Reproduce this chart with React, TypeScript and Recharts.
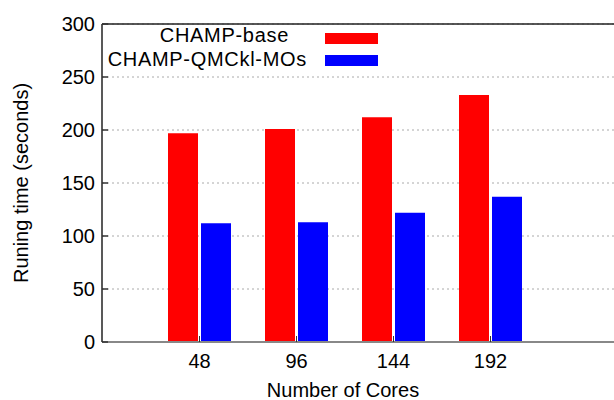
import { BarChart, Bar, XAxis, YAxis, CartesianGrid, Legend, Label, ReferenceLine } from "recharts";

const cores = ["48", "96", "144", "192"];
const champBase = [197, 201, 212, 233];
const champQmckl = [112, 113, 122, 137];
const yTicks = [0, 50, 100, 150, 200, 250, 300];
const seriesNames = ["CHAMP-base", "CHAMP-QMCkl-MOs"];

const data = cores.map((c, i) => ({ cores: c, base: champBase[i], qmckl: champQmckl[i] }));

const FONT = "'Liberation Sans', Arial, sans-serif";

function XTick(props: any) {
  const { x, y, payload } = props;
  return (
    <g>
      <line x1={x} x2={x} y1={342} y2={336} stroke="#333" strokeWidth={1} />
      <text x={x} y={y} dy="0.71em" textAnchor="middle" fontSize={20} fill="#000" fontFamily={FONT}>
        {payload.value}
      </text>
    </g>
  );
}

function YTick(props: any) {
  const { x, y, payload } = props;
  return (
    <g>
      <line x1={102} x2={108} y1={y} y2={y} stroke="#333" strokeWidth={1.5} />
      <text x={x} y={y} dy="0.355em" textAnchor="end" fontSize={20} fill="#000" fontFamily={FONT}>
        {payload.value}
      </text>
    </g>
  );
}

function LegendBox(props: any) {
  const payload = props.payload || [];
  const rows = seriesNames.map((n) => payload.find((p: any) => p.value === n)).filter(Boolean);
  const ends = [289, 307];
  return (
    <div style={{ position: "relative", width: 614, height: 80, fontFamily: FONT, fontSize: 20, letterSpacing: "0.7px" }}>
      {rows.map((r: any, i: number) => (
        <div key={r.value}>
          <div
            style={{
              position: "absolute",
              right: 614 - ends[i],
              top: 24 + i * 24,
              height: 23,
              lineHeight: "23px",
              whiteSpace: "nowrap",
              color: "#000",
            }}
          >
            {r.value}
          </div>
          <div
            style={{
              position: "absolute",
              left: 325,
              top: 33 + i * 22,
              width: 53,
              height: 11,
              background: r.color,
            }}
          />
        </div>
      ))}
    </div>
  );
}

export default function App() {
  return (
    <div style={{ position: "absolute", left: 0, top: 0, width: 614, height: 400, background: "#fff" }}>
      <BarChart
        width={614}
        height={400}
        data={data}
        margin={{ top: 24, right: 0, left: 0, bottom: 0 }}
        barSize={30}
        barGap={3}
      >
        <CartesianGrid vertical={false} stroke="#aaa" strokeDasharray="2 3" />
        <XAxis
          dataKey="cores"
          height={58}
          padding={{ left: 49, right: 75 }}
          axisLine={{ stroke: "#888", strokeWidth: 2 }}
          tickLine={false}
          tickSize={0}
          tickMargin={12}
          tick={<XTick />}
        >
          <Label
            content={() => (
              <text x={343} y={397} textAnchor="middle" fontSize={20} fill="#000" fontFamily={FONT}>
                Number of Cores
              </text>
            )}
          />
        </XAxis>
        <YAxis
          width={102}
          domain={[0, 300]}
          ticks={yTicks}
          interval={0}
          axisLine={{ stroke: "#222", strokeWidth: 1.5 }}
          tickLine={false}
          tickSize={0}
          tickMargin={7}
          tick={<YTick />}
        >
          <Label
            content={() => (
              <text x={21} y={183} transform="rotate(-90 21 183)" textAnchor="middle" dominantBaseline="central" fontSize={20} fill="#000" fontFamily={FONT}>
                Runing time (seconds)
              </text>
            )}
          />
        </YAxis>
        <ReferenceLine y={300} stroke="#222" strokeWidth={1.5} />
        <Legend
          layout="horizontal"
          verticalAlign="middle"
          align="center"
          wrapperStyle={{ top: 0, left: 0, width: 614, height: 80 }}
          content={<LegendBox />}
        />
        <Bar dataKey="base" name={seriesNames[0]} fill="#ff0000" isAnimationActive={false} />
        <Bar dataKey="qmckl" name={seriesNames[1]} fill="#0000ff" isAnimationActive={false} />
      </BarChart>
    </div>
  );
}
